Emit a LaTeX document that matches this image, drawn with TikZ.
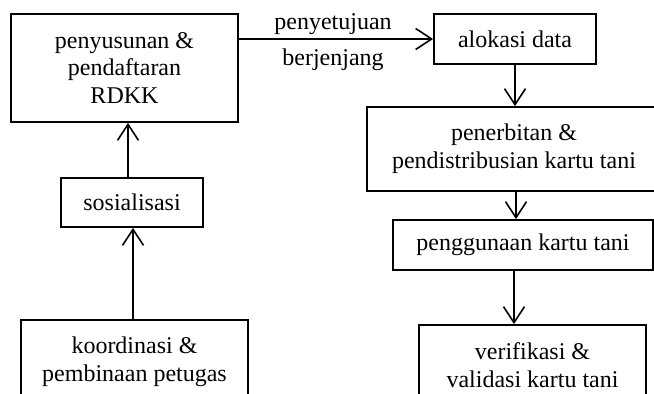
\documentclass[tikz,border=0pt]{standalone}
\usepackage{fontspec}
\setmainfont{Liberation Serif}
\usetikzlibrary{arrows.meta}
\begin{document}
\begin{tikzpicture}[x=1pt,y=-1pt,
  box/.style={draw, line width=1.8pt, align=center, inner sep=0pt,
    font=\fontsize{24}{27.6}\selectfont},
  lbl/.style={inner sep=0pt, font=\fontsize{24}{27.6}\selectfont},
  arr/.style={line width=1.8pt, -{Straight Barb[length=16pt,width=21pt,line width=1.6pt]}}]
\useasboundingbox (0,0) rectangle (654,394);
\clip (0,0) rectangle (654,394);
\node[box, minimum width=227pt, minimum height=108pt] (rdkk) at (124.5,68)
  {penyusunan \&\\pendaftaran\\RDKK};
\node[box, minimum width=142pt, minimum height=49pt] (sos) at (132,202.5) {sosialisasi};
\node[box, minimum width=227pt, minimum height=84pt] (koord) at (134.5,362)
  {koordinasi \&\\pembinaan petugas};
\node[box, minimum width=162pt, minimum height=50pt] (alok) at (515,39) {alokasi data};
\node[box, minimum width=294pt, minimum height=84pt] (pen) at (514,149)
  {penerbitan \&\\pendistribusian kartu tani};
\node[box, minimum width=260pt, minimum height=50pt] (guna) at (523,245) {penggunaan kartu tani};
\node[box, minimum width=227pt, minimum height=80pt] (verif) at (532.5,365)
  {verifikasi \&\\validasi kartu tani};
\node[lbl, anchor=base] (t1) at (333,29) {penyetujuan};
\node[lbl, anchor=base] (t2) at (333,65) {berjenjang};
\draw[arr] (rdkk.east |- alok.west) -- (alok.west);
\draw[arr] ([xshift=-4pt]sos.north) -- ([xshift=-4pt]sos.north |- rdkk.south);
\draw[arr] ([xshift=-1.5pt]koord.north) -- ([xshift=-1.5pt]koord.north |- sos.south);
\draw[arr] (alok.south) -- (alok.south |- pen.north);
\draw[arr] ([xshift=2pt]pen.south) -- ([xshift=2pt]pen.south |- guna.north);
\draw[arr] (pen.south |- guna.south) -- (pen.south |- verif.north);
\end{tikzpicture}
\end{document}
